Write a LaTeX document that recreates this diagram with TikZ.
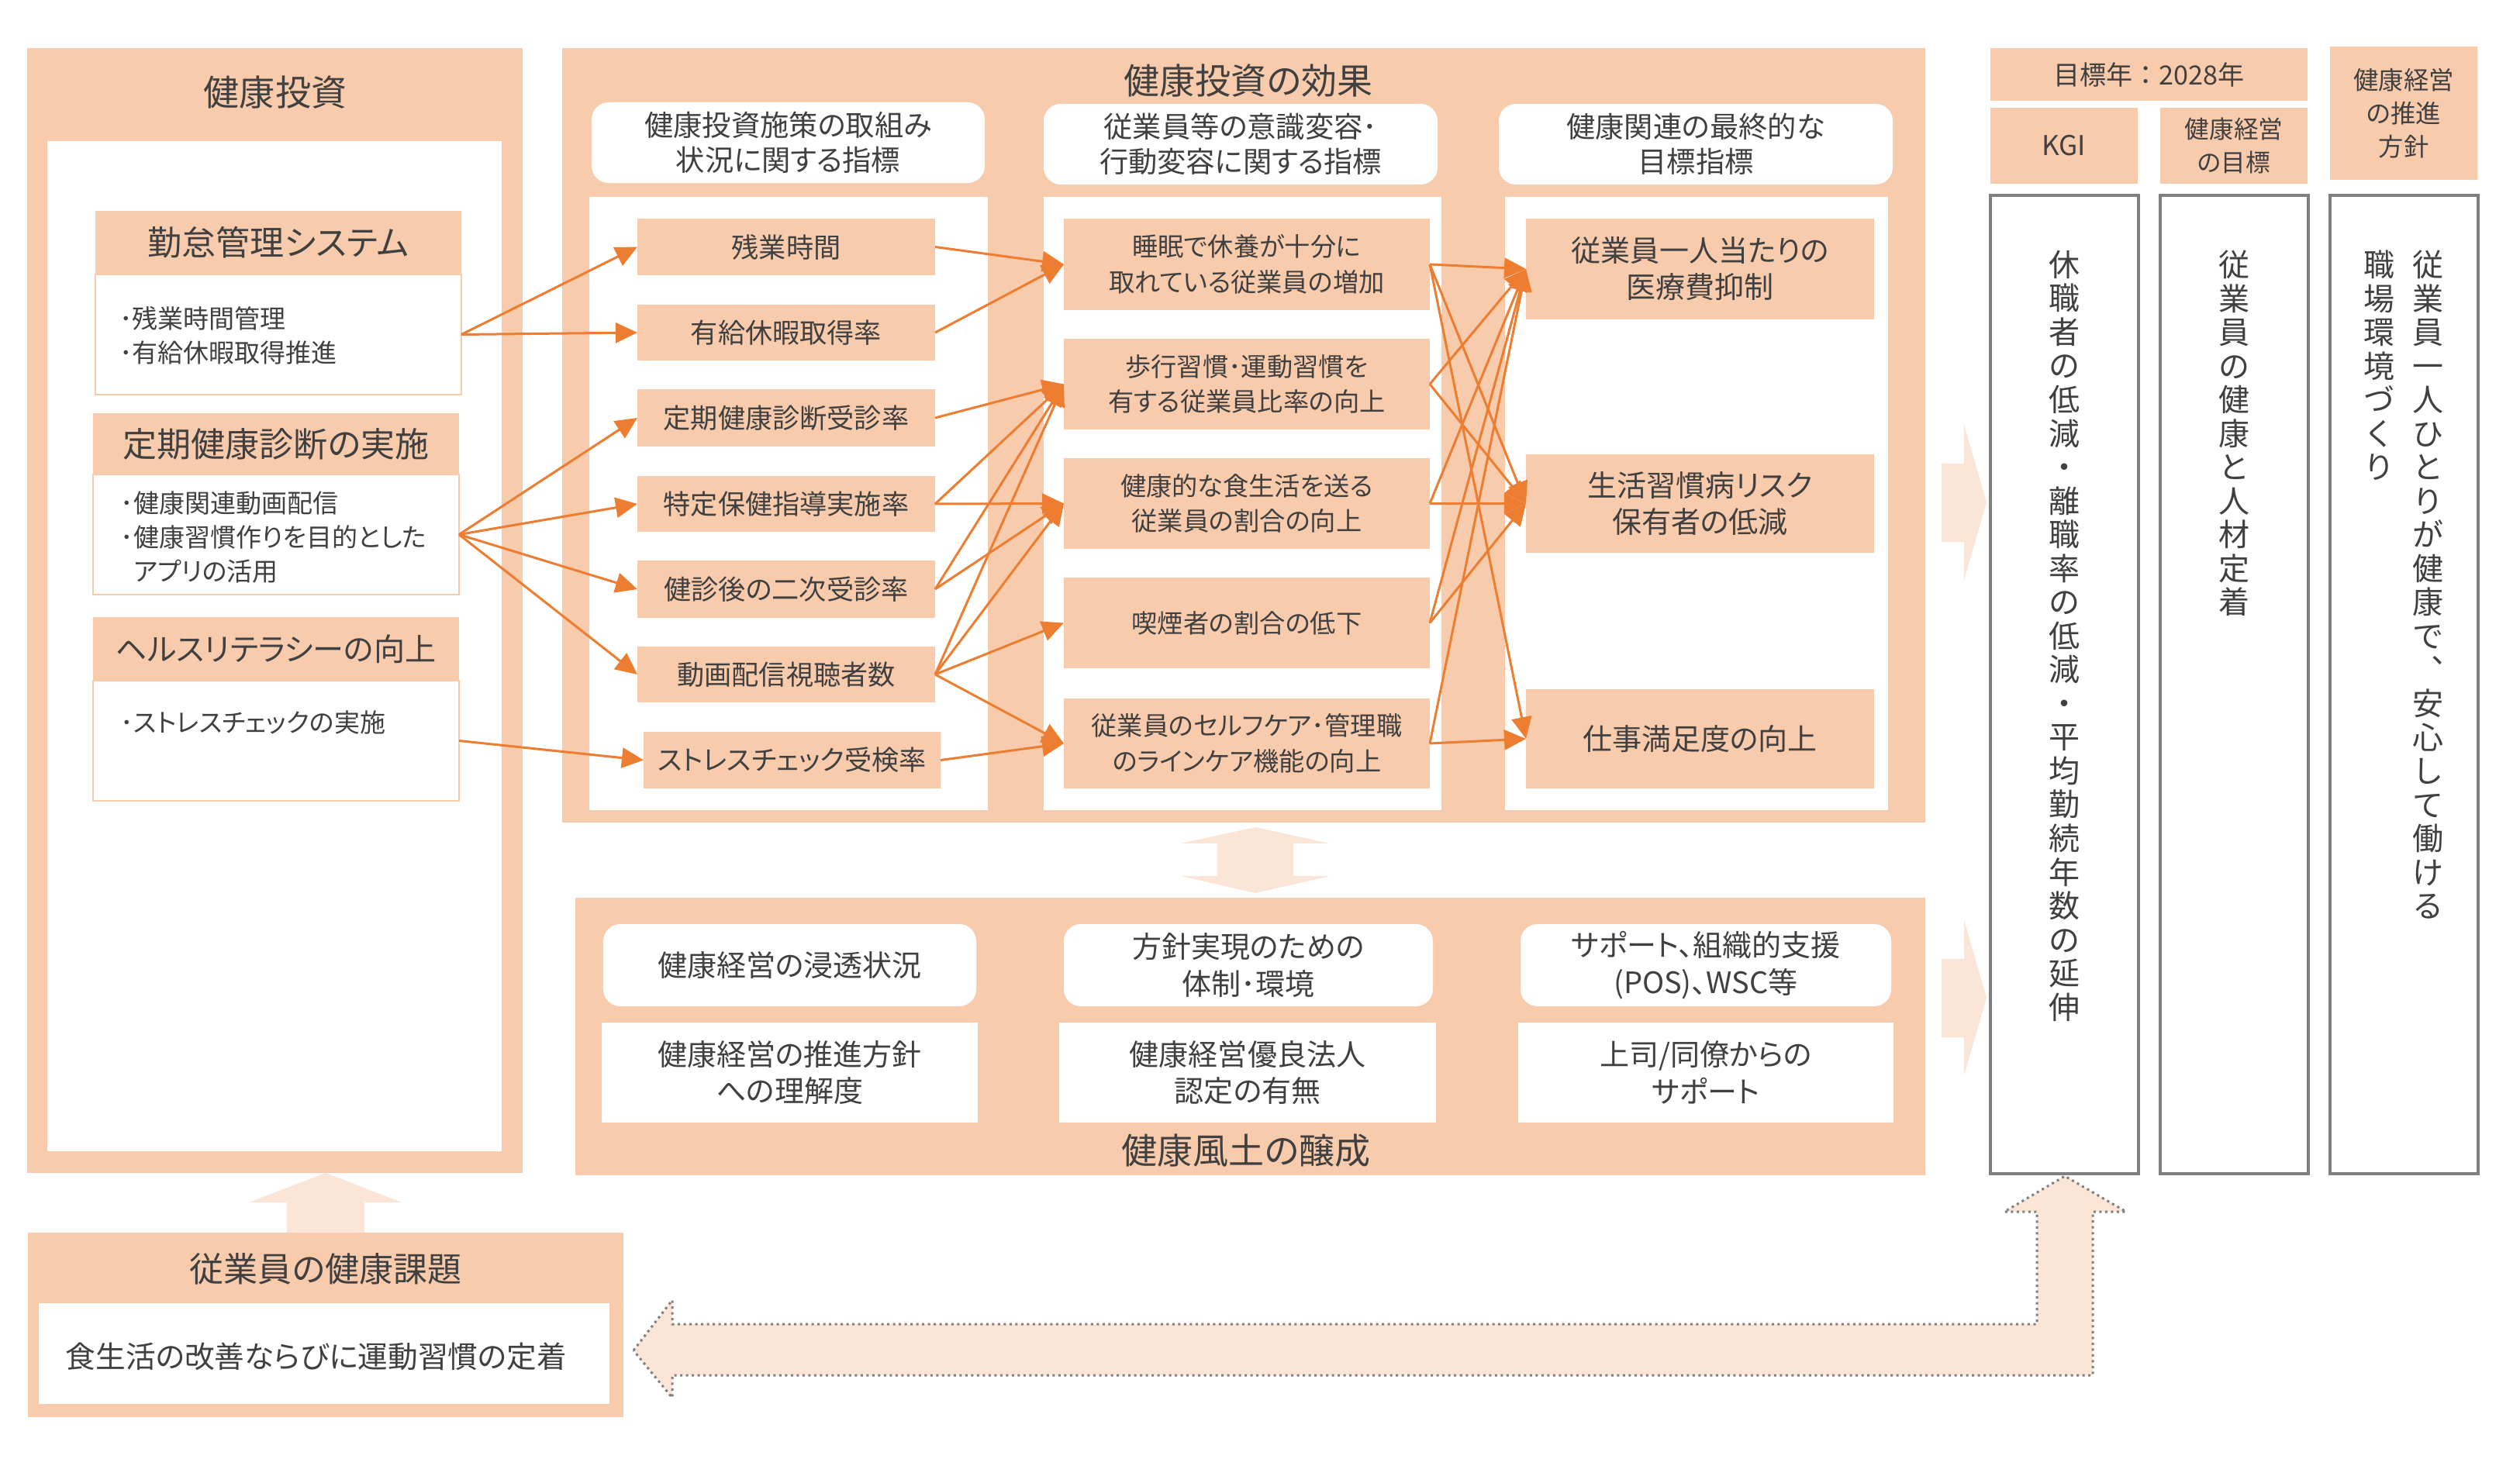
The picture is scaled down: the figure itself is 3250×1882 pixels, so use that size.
\documentclass[tikz,border=0pt]{standalone}
\usepackage{fontspec}
\setmainfont{Noto Sans CJK JP}[RawFeature=+palt]
\newfontfamily\jpv{Noto Sans CJK JP}
\usetikzlibrary{arrows.meta}
\definecolor{peach}{HTML}{F8CBAD}
\definecolor{pale}{HTML}{FBE5D6}
\definecolor{org}{HTML}{ED7D31}
\definecolor{txt}{HTML}{404040}
\definecolor{gry}{HTML}{7F7F7F}
\newcommand\fpx[2]{\fontsize{#1pt}{#2pt}\selectfont}
% \bx{name}{style}{x1}{y1}{x2}{y2}{text}
\newcommand\bx[7]{%
  \pgfmathsetmacro\bxcx{(#3+#5)/2}%
  \pgfmathsetmacro\bxcy{(#4+#6)/2}%
  \pgfmathsetmacro\bxw{abs(#5-#3)*0.01}%
  \pgfmathsetmacro\bxh{abs(#6-#4)*0.01}%
  \node[#2, minimum width=\bxw cm, minimum height=\bxh cm] (#1) at (\bxcx,\bxcy) {#7};}
\begin{document}
\begin{tikzpicture}[x=0.01cm,y=-0.01cm,
  every node/.style={inner sep=0pt, outer sep=0pt, text=txt},
  panel/.style={fill=peach},
  wbox/.style={fill=white, align=center},
  pbox/.style={fill=peach, align=center},
  lbody/.style={fill=white, draw=peach, line width=0.02cm},
  rwhite/.style={fill=white, rounded corners=0.22cm, align=center},
  gbox/.style={draw=gry, line width=0.045cm, fill=white},
  conn/.style={draw=org, line width=0.03cm, -{Triangle[length=0.28cm,width=0.26cm]}},
  dotline/.style={draw=gry, line width=0.03cm, dash pattern=on 0.03cm off 0.045cm, fill=pale},
  ttl/.style={font=\fpx{13.09}{15}},
  lhead/.style={pbox, font=\fpx{12.52}{14}},
  ltext/.style={anchor=west, align=left, font=\fpx{9.39}{12.6}},
  chead/.style={rwhite, font=\fpx{10.6}{12.9}},
  cA/.style={pbox, font=\fpx{10.0}{12}},
  cB/.style={pbox, font=\fpx{9.45}{12.95}},
  cC/.style={pbox, font=\fpx{10.81}{13.37}},
  bt/.style={font=\fpx{10.81}{13.5}},
  vtext/.style={anchor=north, align=center, font={\jpv\fpx{11.38}{12.38}}},
]
\fill[white] (0,0) rectangle (3250,1882);
\useasboundingbox (0,0) rectangle (3250,1882);

% ---------- left panel
\bx{P1}{panel}{35}{62}{674}{1513}{}
\bx{P1in}{wbox}{61}{182}{647}{1485}{}
\node[ttl] (P1t) at (355,119) {健康投資};
\bx{h1}{lhead}{123}{272}{595}{354}{勤怠管理システム}
\bx{b1}{lbody}{123}{354}{595}{509}{}
\node[ltext] (t1) at (154,433) {･残業時間管理\\･有給休暇取得推進};
\bx{h2}{lhead}{120}{533}{592}{612}{定期健康診断の実施}
\bx{b2}{lbody}{120}{612}{592}{767}{}
\node[ltext] (t2) at (156,693) {･健康関連動画配信\\･健康習慣作りを目的とした\\\phantom{･}アプリの活用};
\bx{h3}{lhead, font=\fpx{11.4}{14}}{120}{796}{592}{878}{ヘルスリテラシーの向上}
\bx{b3}{lbody}{120}{878}{592}{1033}{}
\node[ltext] (t3) at (156,932) {･ストレスチェックの実施};

% ---------- middle panel
\bx{P2}{panel}{725}{62}{2483}{1061}{}
\node[ttl] (P2t) at (1610,104) {健康投資の効果};
\bx{c1h}{chead}{763}{132}{1270}{236}{健康投資施策の取組み\\状況に関する指標}
\bx{c2h}{chead}{1346}{134}{1854}{238}{従業員等の意識変容･\\行動変容に関する指標}
\bx{c3h}{chead}{1933}{134}{2441}{238}{健康関連の最終的な\\目標指標}
\bx{c1w}{wbox}{760}{254}{1274}{1045}{}
\bx{c2w}{wbox}{1346}{254}{1859}{1045}{}
\bx{c3w}{wbox}{1941}{254}{2435}{1045}{}

\bx{a1}{cA}{822}{282}{1206}{355}{残業時間}
\bx{a2}{cA}{822}{393}{1206}{465}{有給休暇取得率}
\bx{a3}{cA}{822}{502}{1206}{576}{定期健康診断受診率}
\bx{a4}{cA}{822}{614}{1206}{686}{特定保健指導実施率}
\bx{a5}{cA}{822}{723}{1206}{797}{健診後の二次受診率}
\bx{a6}{cA}{822}{834}{1206}{906}{動画配信視聴者数}
\bx{a7}{cA}{830}{944}{1213}{1017}{ストレスチェック受検率}

\bx{m1}{cB}{1372}{282}{1844}{400}{睡眠で休養が十分に\\取れている従業員の増加}
\bx{m2}{cB}{1372}{437}{1844}{554}{歩行習慣･運動習慣を\\有する従業員比率の向上}
\bx{m3}{cB}{1372}{591}{1844}{708}{健康的な食生活を送る\\従業員の割合の向上}
\bx{m4}{cB}{1372}{745}{1844}{862}{喫煙者の割合の低下}
\bx{m5}{cB}{1372}{901}{1844}{1017}{従業員のセルフケア･管理職\\のラインケア機能の向上}

\bx{g1}{cC}{1968}{282}{2417}{412}{従業員一人当たりの\\医療費抑制}
\bx{g2}{cC}{1968}{586}{2417}{713}{生活習慣病リスク\\保有者の低減}
\bx{g3}{cC}{1968}{889}{2417}{1017}{仕事満足度の向上}

% ---------- bottom panel
\bx{P3}{panel}{742}{1158}{2483}{1516}{}
\bx{r1}{rwhite, bt}{778}{1192}{1259}{1298}{健康経営の浸透状況}
\bx{r2}{rwhite, bt}{1372}{1192}{1848}{1298}{方針実現のための\\体制･環境}
\bx{r3}{rwhite, bt}{1961}{1192}{2439}{1298}{サポート、組織的支援\\(POS)、WSC等}
\bx{s1}{wbox, bt}{776}{1319}{1261}{1448}{健康経営の推進方針\\への理解度}
\bx{s2}{wbox, bt}{1366}{1319}{1852}{1448}{健康経営優良法人\\認定の有無}
\bx{s3}{wbox, bt}{1958}{1319}{2442}{1448}{上司/同僚からの\\サポート}
\node[ttl] (P3t) at (1607,1484) {健康風土の醸成};

% ---------- right column
\bx{yr}{pbox, font={\jpv\fpx{9.7}{11}}}{2567}{62}{2976}{130}{目標年：2028年}
\bx{kgih}{pbox, font=\fpx{10.0}{11}}{2567}{139}{2757}{237}{KGI}
\bx{goalh}{pbox, font=\fpx{9.0}{12.23}}{2786}{139}{2976}{237}{健康経営\\の目標}
\bx{polh}{pbox, font=\fpx{9.2}{12.23}}{3005}{60}{3195}{232}{健康経営\\の推進\\方針}
\bx{kgi}{gbox}{2567}{252}{2758}{1514}{}
\bx{goal}{gbox}{2786}{252}{2977}{1514}{}
\bx{pol}{gbox}{3005}{252}{3196}{1514}{}
\node[vtext] (kgiv) at (2662,323) {休\\職\\者\\の\\低\\減\\・\\離\\職\\率\\の\\低\\減\\・\\平\\均\\勤\\続\\年\\数\\の\\延\\伸};
\node[vtext] (goalv) at (2881,323) {従\\業\\員\\の\\健\\康\\と\\人\\材\\定\\着};
\node[vtext] (polv1) at (3131,323) {従\\業\\員\\一\\人\\ひ\\と\\り\\が\\健\\康\\で\\︑\\安\\心\\し\\て\\働\\け\\る};
\node[vtext] (polv2) at (3068,323) {職\\場\\環\\境\\づ\\く\\り};

% ---------- bottom-left panel
\bx{P4}{panel}{36}{1590}{804}{1828}{}
\bx{P4in}{wbox}{50}{1681}{786}{1811}{}
\node[font=\fpx{12.52}{14}] (P4t) at (420,1637) {従業員の健康課題};
\node[font=\fpx{11.0}{12}] (P4x) at (408,1750) {食生活の改善ならびに運動習慣の定着};

% ---------- connectors
\draw[conn] (b1.east) -- (a1.west);
\draw[conn] (b1.east) -- (a2.west);
\foreach \t in {a3,a4,a5,a6} \draw[conn] (b2.east) -- (\t.west);
\draw[conn] (b3.east) -- (a7.west);

\draw[conn] (a1.east) -- (m1.west);
\draw[conn] (a2.east) -- (m1.west);
\draw[conn] (a3.east) -- (m2.west);
\draw[conn] (a4.east) -- (m2.west);
\draw[conn] (a4.east) -- (m3.west);
\draw[conn] (a5.east) -- (m2.west);
\draw[conn] (a5.east) -- (m3.west);
\foreach \t in {m2,m3,m4,m5} \draw[conn] (a6.east) -- (\t.west);
\draw[conn] (a7.east) -- (m5.west);

\foreach \t in {g1,g2,g3} \draw[conn] (m1.east) -- (\t.west);
\foreach \t in {g1,g2} \draw[conn] (m2.east) -- (\t.west);
\foreach \t in {g1,g2} \draw[conn] (m3.east) -- (\t.west);
\foreach \t in {g1,g2} \draw[conn] (m4.east) -- (\t.west);
\foreach \t in {g1,g3} \draw[conn] (m5.east) -- (\t.west);

% ---------- block arrows
\fill[pale] (2504,598) -- (2533,598) -- (2533,548) -- (2562,648) -- (2533,748) -- (2533,699) -- (2504,699) -- cycle;
\fill[pale] (2504,1237) -- (2533,1237) -- (2533,1187) -- (2562,1287) -- (2533,1387) -- (2533,1338) -- (2504,1338) -- cycle;
\fill[pale] (1619,1067) -- (1715,1088) -- (1668,1088) -- (1668,1130) -- (1715,1130) -- (1619,1152) -- (1523,1130) -- (1570,1130) -- (1570,1088) -- (1523,1088) -- cycle;
\fill[pale] (370,1590) -- (370,1551) -- (321,1551) -- (420,1513) -- (518,1551) -- (470,1551) -- (470,1590) -- cycle;
\draw[dotline] (817,1742) -- (867,1677) -- (867,1708) -- (2627,1708) -- (2627,1563) -- (2585,1563) -- (2663,1517) -- (2742,1563) -- (2699,1563) -- (2699,1774) -- (867,1774) -- (867,1803) -- cycle;
\end{tikzpicture}
\end{document}
